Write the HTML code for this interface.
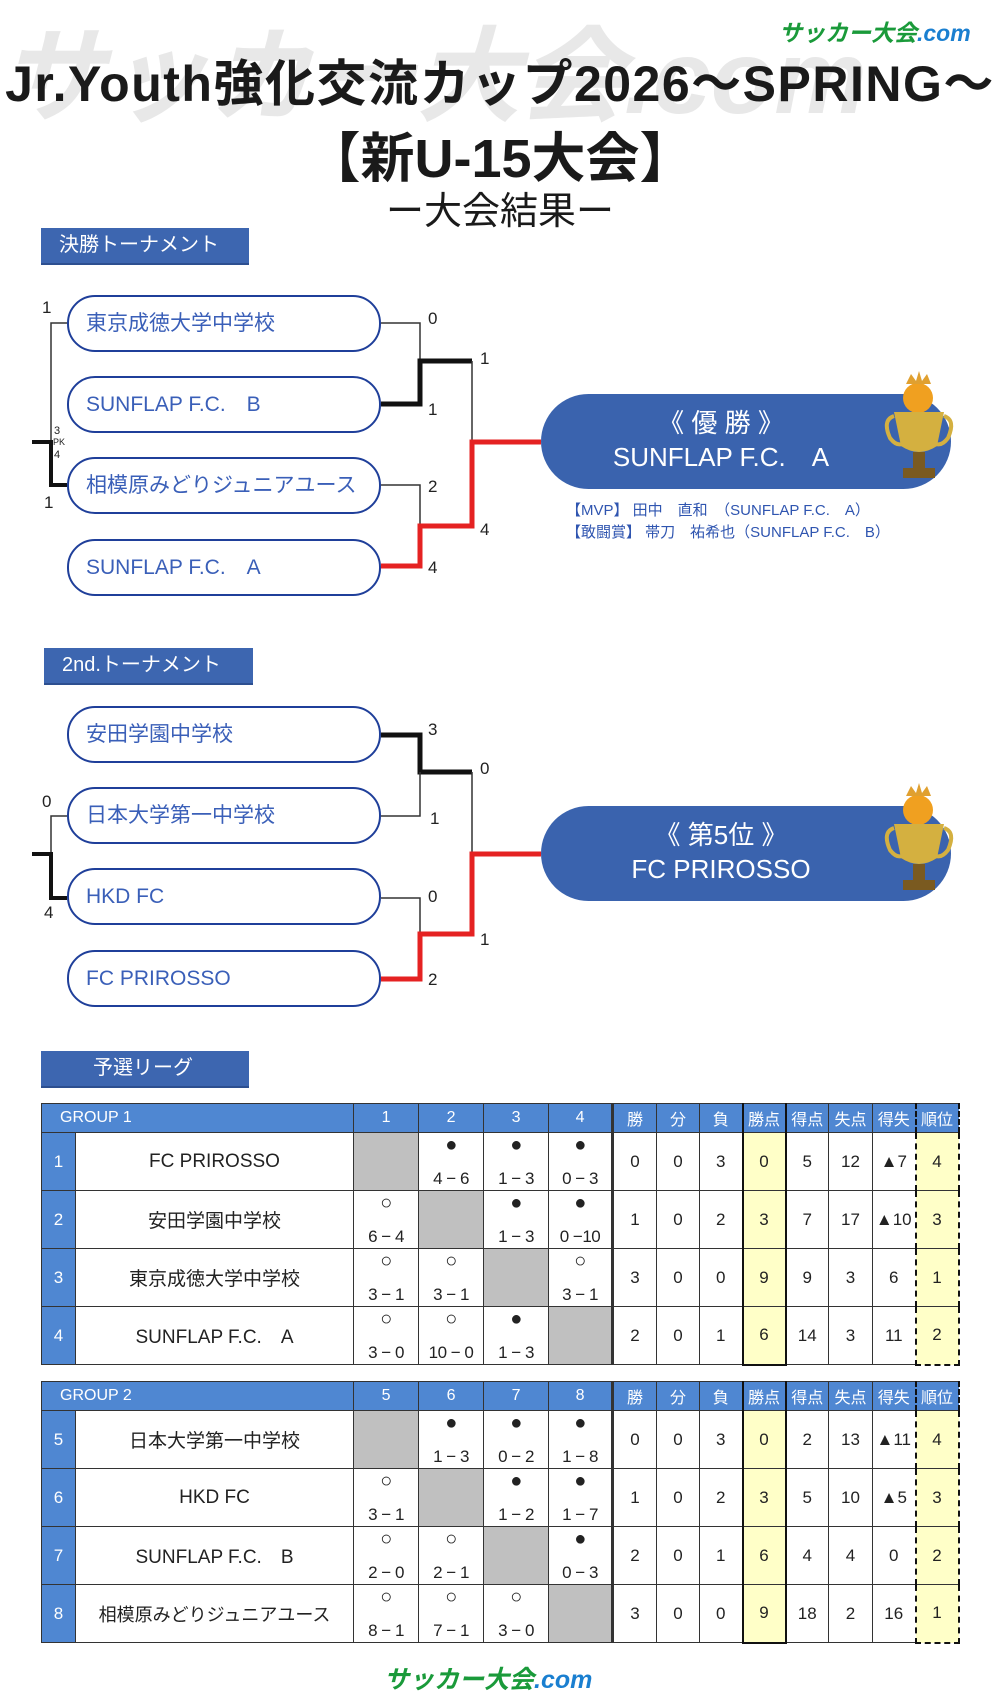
<!DOCTYPE html>
<html><head><meta charset="utf-8">
<style>
*{margin:0;padding:0;box-sizing:border-box}
body{width:1000px;height:1700px;background:#fff;position:relative;overflow:hidden;font-family:"Liberation Sans","Noto Sans CJK JP",sans-serif}
.a{position:absolute}
.sec{position:absolute;background:#3d66b0;color:#fff;font-size:20px;line-height:35px;padding-left:18px;border-bottom:2px solid #2d4f90}
.team{position:absolute;left:67px;width:314px;height:57px;border:2px solid #1f3f9a;border-radius:28px;color:#3a5fb8;font-size:21px;line-height:53px;padding-left:17px;background:#fff}
.champ{position:absolute;left:541px;width:410px;height:95px;background:#3a63ae;border-radius:48px;color:#fff;text-align:center;font-size:26px;line-height:34px;padding-top:12px;padding-right:50px}
table{position:absolute;left:41px;border-collapse:collapse;table-layout:fixed;width:917px}
td{border:1px solid #333;text-align:center;font-size:17px;color:#222;height:57.5px;vertical-align:middle;padding:0}
tr.h td{height:29px;background:#4f87d2;color:#fff;font-size:16px}
td.n{background:#4f87d2;color:#fff;font-size:17px}
td.g{background:#c0c0c0}
td.y{background:#ffffc8}
td.pt{border-left:2px solid #111;border-right:2px solid #111}
td.rk{border-left:2px dashed #111;border-right:2px dashed #111;background:#ffffc8}
tr.h td.rk{background:#4f87d2}
td.gap{border-left:3px solid #333}
.r{display:flex;flex-direction:column;justify-content:space-between;height:57px;padding:1px 0 1px;font-size:17px;white-space:nowrap;letter-spacing:-0.5px}
.r span:first-child{font-size:20px;line-height:22px}
td.nm{font-size:19px}
</style></head><body>

<div class="a" style="left:0;top:-8px;font-size:104px;font-weight:bold;color:#e8e8e8;white-space:nowrap;font-style:italic">サッカー大会.com</div>
<div class="a" style="left:779px;top:14px;font-size:23px;font-weight:bold;color:#1a9a3a;font-style:italic;white-space:nowrap">サッカー大会<span style="color:#1a7fd0">.com</span></div>
<div class="a" style="left:0;width:1000px;top:44px;text-align:center;font-size:50px;font-weight:bold;color:#1a1a1a;white-space:nowrap;letter-spacing:1.5px">Jr.Youth強化交流カップ2026～SPRING～</div>
<div class="a" style="left:0;width:1000px;top:114px;text-align:center;font-size:54px;font-weight:bold;color:#1a1a1a;white-space:nowrap">【新U-15大会】</div>
<div class="a" style="left:0;width:1000px;top:180px;text-align:center;font-size:38px;color:#1a1a1a;white-space:nowrap">ー大会結果ー</div>

<div class="sec" style="left:41px;top:228px;width:208px">決勝トーナメント</div>
<div class="sec" style="left:44px;top:648px;width:209px">2nd.トーナメント</div>
<div class="sec" style="left:41px;top:1051px;width:208px;padding-left:52px">予選リーグ</div>

<svg class="a" style="left:0;top:0" width="1000" height="1100">
<g fill="none" stroke-linejoin="miter">
<polyline points="381,323 420,323 420,404" stroke="#333" stroke-width="1.5"/>
<polyline points="381,404 420,404 420,361 472,361" stroke="#111" stroke-width="5"/>
<polyline points="472,361 472,442" stroke="#333" stroke-width="1.5"/>
<polyline points="381,485 420,485 420,566" stroke="#333" stroke-width="1.5"/>
<polyline points="381,566 420,566 420,526 472,526 472,442 541,442" stroke="#e52222" stroke-width="5"/>
<polyline points="67,323 51,323 51,442" stroke="#333" stroke-width="1.5"/>
<polyline points="32,442 51,442 51,485 67,485" stroke="#111" stroke-width="4"/>
<polyline points="381,735 420,735 420,772 472,772" stroke="#111" stroke-width="5"/>
<polyline points="381,816 420,816 420,772" stroke="#333" stroke-width="1.5"/>
<polyline points="472,772 472,854" stroke="#333" stroke-width="1.5"/>
<polyline points="381,898 420,898 420,979" stroke="#333" stroke-width="1.5"/>
<polyline points="381,979 420,979 420,934 472,934 472,854 541,854" stroke="#e52222" stroke-width="5"/>
<polyline points="67,816 51,816 51,854" stroke="#333" stroke-width="1.5"/>
<polyline points="32,854 51,854 51,898 67,898" stroke="#111" stroke-width="4"/>
</g>
<g font-family="Liberation Sans, sans-serif" font-size="17" fill="#222">
<text x="428" y="324">0</text><text x="428" y="415">1</text><text x="480" y="364">1</text>
<text x="428" y="492">2</text><text x="428" y="573">4</text><text x="480" y="535">4</text>
<text x="42" y="313">1</text><text x="44" y="508">1</text>
<text x="428" y="735">3</text><text x="480" y="774">0</text><text x="430" y="824">1</text>
<text x="428" y="902">0</text><text x="428" y="985">2</text><text x="480" y="945">1</text>
<text x="42" y="807">0</text><text x="44" y="918">4</text>
<text x="54" y="434" font-size="11">3</text><text x="53" y="445" font-size="9">PK</text><text x="54" y="458" font-size="11">4</text>
</g>
</svg>

<div class="team" style="top:295px">東京成徳大学中学校</div>
<div class="team" style="top:376px">SUNFLAP F.C.　B</div>
<div class="team" style="top:457px">相模原みどりジュニアユース</div>
<div class="team" style="top:539px">SUNFLAP F.C.　A</div>
<div class="team" style="top:706px">安田学園中学校</div>
<div class="team" style="top:787px">日本大学第一中学校</div>
<div class="team" style="top:868px">HKD FC</div>
<div class="team" style="top:950px">FC PRIROSSO</div>

<div class="champ" style="top:394px">《 優 勝 》<br>SUNFLAP F.C.　A</div>
<div class="champ" style="top:806px">《 第5位 》<br>FC PRIROSSO</div>
<svg class="a" style="left:880px;top:370px" width="90" height="130"><circle cx="38" cy="28" r="15" fill="#f0a020"/><path d="M26,14 l5,-10 5,7 3,-10 3,10 5,-7 4,10z" fill="#e0a030"/><path d="M14,42 h50 l-7,34 q-18,12 -36,0z" fill="#d4b040"/><path d="M14,46 q-12,4 -4,22 q6,8 12,6" fill="none" stroke="#d4b040" stroke-width="4"/><path d="M64,46 q12,4 4,22 q-6,8 -12,6" fill="none" stroke="#d4b040" stroke-width="4"/><path d="M33,82 h12 v16 h10 v10 h-32 v-10 h10z" fill="#7a5a20"/></svg>
<svg class="a" style="left:880px;top:782px" width="90" height="130"><circle cx="38" cy="28" r="15" fill="#f0a020"/><path d="M26,14 l5,-10 5,7 3,-10 3,10 5,-7 4,10z" fill="#e0a030"/><path d="M14,42 h50 l-7,34 q-18,12 -36,0z" fill="#d4b040"/><path d="M14,46 q-12,4 -4,22 q6,8 12,6" fill="none" stroke="#d4b040" stroke-width="4"/><path d="M64,46 q12,4 4,22 q-6,8 -12,6" fill="none" stroke="#d4b040" stroke-width="4"/><path d="M33,82 h12 v16 h10 v10 h-32 v-10 h10z" fill="#7a5a20"/></svg>

<div class="a" style="left:566px;top:500px;font-size:15px;color:#2f55b0;line-height:22px;white-space:nowrap">【MVP】 田中　直和　（SUNFLAP F.C.　A）<br>【敢闘賞】 帯刀　祐希也（SUNFLAP F.C.　B）</div>

<table style="top:1103px">
<colgroup><col style="width:34px"><col style="width:278px"><col style="width:65px"><col style="width:65px"><col style="width:65px"><col style="width:64px"><col style="width:44px"><col style="width:43px"><col style="width:43px"><col style="width:43px"><col style="width:43px"><col style="width:44px"><col style="width:43px"><col style="width:43px"></colgroup>
<tr class="h"><td colspan="2" style="text-align:left;padding-left:18px">GROUP 1</td><td>1</td><td>2</td><td>3</td><td>4</td><td class="gap">勝</td><td>分</td><td>負</td><td class="pt">勝点</td><td>得点</td><td>失点</td><td>得失</td><td class="rk">順位</td></tr>
<tr><td class="n">1</td><td class="nm">FC PRIROSSO</td><td class="g"></td><td><div class="r"><span>●</span><span>4 − 6</span></div></td><td><div class="r"><span>●</span><span>1 − 3</span></div></td><td><div class="r"><span>●</span><span>0 − 3</span></div></td><td class="gap">0</td><td>0</td><td>3</td><td class="y pt">0</td><td>5</td><td>12</td><td>▲7</td><td class="rk">4</td></tr>
<tr><td class="n">2</td><td class="nm">安田学園中学校</td><td><div class="r"><span>○</span><span>6 − 4</span></div></td><td class="g"></td><td><div class="r"><span>●</span><span>1 − 3</span></div></td><td><div class="r"><span>●</span><span>0 −10</span></div></td><td class="gap">1</td><td>0</td><td>2</td><td class="y pt">3</td><td>7</td><td>17</td><td>▲10</td><td class="rk">3</td></tr>
<tr><td class="n">3</td><td class="nm">東京成徳大学中学校</td><td><div class="r"><span>○</span><span>3 − 1</span></div></td><td><div class="r"><span>○</span><span>3 − 1</span></div></td><td class="g"></td><td><div class="r"><span>○</span><span>3 − 1</span></div></td><td class="gap">3</td><td>0</td><td>0</td><td class="y pt">9</td><td>9</td><td>3</td><td>6</td><td class="rk">1</td></tr>
<tr><td class="n">4</td><td class="nm">SUNFLAP F.C.　A</td><td><div class="r"><span>○</span><span>3 − 0</span></div></td><td><div class="r"><span>○</span><span>10 − 0</span></div></td><td><div class="r"><span>●</span><span>1 − 3</span></div></td><td class="g"></td><td class="gap">2</td><td>0</td><td>1</td><td class="y pt" style="border-bottom:2px solid #111">6</td><td>14</td><td>3</td><td>11</td><td class="rk" style="border-bottom:2px dashed #111">2</td></tr>
</table>

<table style="top:1381px">
<colgroup><col style="width:34px"><col style="width:278px"><col style="width:65px"><col style="width:65px"><col style="width:65px"><col style="width:64px"><col style="width:44px"><col style="width:43px"><col style="width:43px"><col style="width:43px"><col style="width:43px"><col style="width:44px"><col style="width:43px"><col style="width:43px"></colgroup>
<tr class="h"><td colspan="2" style="text-align:left;padding-left:18px">GROUP 2</td><td>5</td><td>6</td><td>7</td><td>8</td><td class="gap">勝</td><td>分</td><td>負</td><td class="pt">勝点</td><td>得点</td><td>失点</td><td>得失</td><td class="rk">順位</td></tr>
<tr><td class="n">5</td><td class="nm">日本大学第一中学校</td><td class="g"></td><td><div class="r"><span>●</span><span>1 − 3</span></div></td><td><div class="r"><span>●</span><span>0 − 2</span></div></td><td><div class="r"><span>●</span><span>1 − 8</span></div></td><td class="gap">0</td><td>0</td><td>3</td><td class="y pt">0</td><td>2</td><td>13</td><td>▲11</td><td class="rk">4</td></tr>
<tr><td class="n">6</td><td class="nm">HKD FC</td><td><div class="r"><span>○</span><span>3 − 1</span></div></td><td class="g"></td><td><div class="r"><span>●</span><span>1 − 2</span></div></td><td><div class="r"><span>●</span><span>1 − 7</span></div></td><td class="gap">1</td><td>0</td><td>2</td><td class="y pt">3</td><td>5</td><td>10</td><td>▲5</td><td class="rk">3</td></tr>
<tr><td class="n">7</td><td class="nm">SUNFLAP F.C.　B</td><td><div class="r"><span>○</span><span>2 − 0</span></div></td><td><div class="r"><span>○</span><span>2 − 1</span></div></td><td class="g"></td><td><div class="r"><span>●</span><span>0 − 3</span></div></td><td class="gap">2</td><td>0</td><td>1</td><td class="y pt">6</td><td>4</td><td>4</td><td>0</td><td class="rk">2</td></tr>
<tr><td class="n">8</td><td class="nm" style="font-size:18px">相模原みどりジュニアユース</td><td><div class="r"><span>○</span><span>8 − 1</span></div></td><td><div class="r"><span>○</span><span>7 − 1</span></div></td><td><div class="r"><span>○</span><span>3 − 0</span></div></td><td class="g"></td><td class="gap">3</td><td>0</td><td>0</td><td class="y pt" style="border-bottom:2px solid #111">9</td><td>18</td><td>2</td><td>16</td><td class="rk" style="border-bottom:2px dashed #111">1</td></tr>
</table>

<div class="a" style="left:384px;top:1660px;font-size:25px;font-weight:bold;color:#1a9a3a;font-style:italic;white-space:nowrap">サッカー大会<span style="color:#1a7fd0">.com</span></div>
</body></html>
